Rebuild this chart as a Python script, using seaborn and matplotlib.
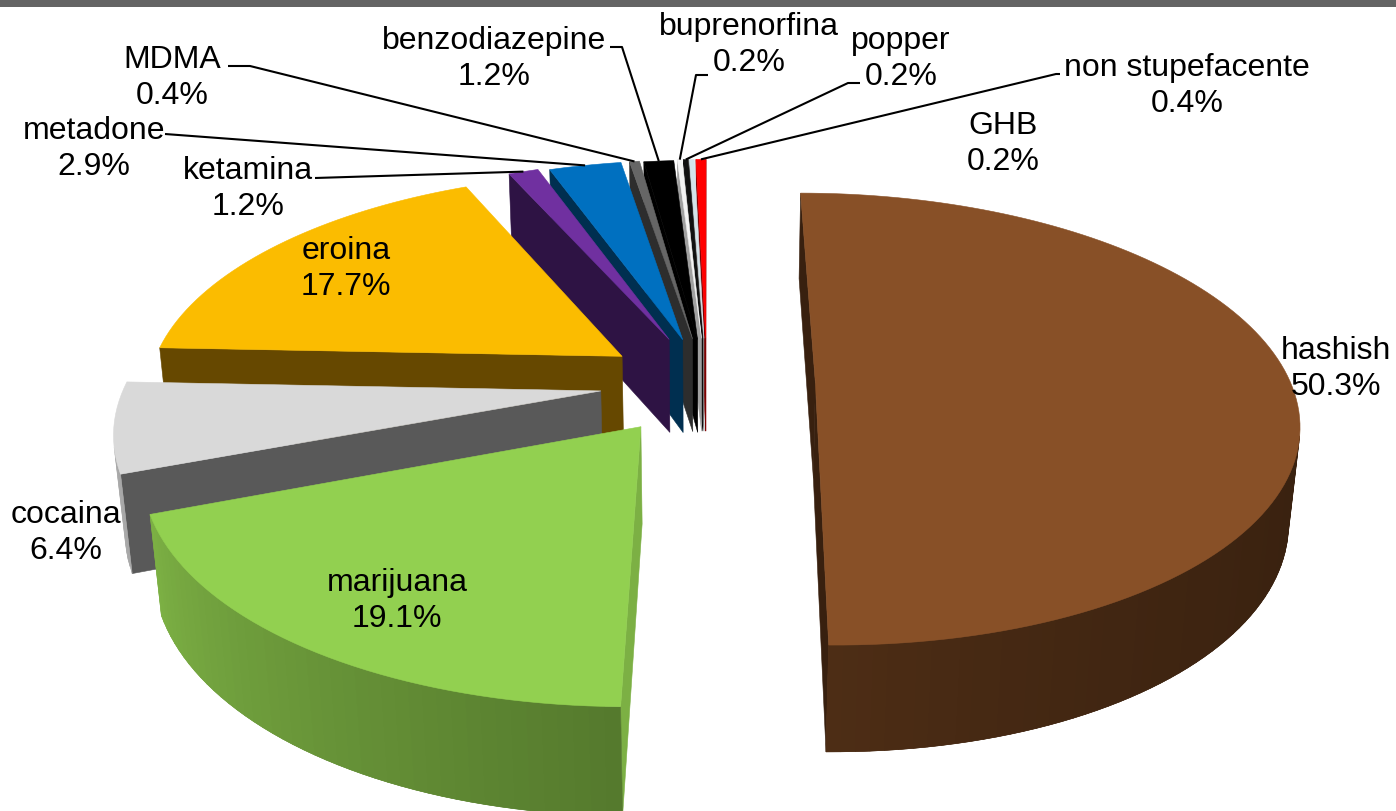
# -*- coding: utf-8 -*-
# Exploded 3D pie of substances, drawn with a small perspective projection
import numpy as np
import matplotlib
matplotlib.use('Agg')
import matplotlib.pyplot as plt
import matplotlib.colors as mcolors
import seaborn as sns

# Data, clockwise from 12 o'clock
labels = ['hashish', 'marijuana', 'cocaina', 'eroina', 'ketamina', 'metadone', 'MDMA',
          'benzodiazepine', 'buprenorfina', 'popper', 'GHB', 'non stupefacente']
values = [50.3, 19.1, 6.4, 17.7, 1.2, 2.9, 0.4, 1.2, 0.2, 0.2, 0.2, 0.4]

# Colours: top face, cut face, rim at slice start, rim at slice end
top_colors = ['#885027', '#92D050', '#D9D9D9', '#FBBC00', '#7030A0', '#0070C0', '#666666',
              '#000000', '#F4F4F4', '#111111', '#D3E4EA', '#FF0000']
cut_colors = ['#38200F', '#7CB044', '#595959', '#664800', '#2E1344', '#002F50', '#2D2D2D',
              '#000000', '#A0A0A0', '#000000', '#7F7F7F', '#7F0000']
rim_start = ['#37200F', '#557A2D', '#A8A8A8', '#664800', '#2E1344', '#002F50', '#2D2D2D',
             '#000000', '#A0A0A0', '#000000', '#7F7F7F', '#7F0000']
rim_end = ['#4D2D15', '#7CB044', '#B8B8B8', '#664800', '#2E1344', '#002F50', '#2D2D2D',
           '#000000', '#A0A0A0', '#000000', '#7F7F7F', '#7F0000']
rim_gamma = [4, 1, 1, 1, 1, 1, 1, 1, 1, 1, 1, 1]

# Label centres in figure pixels
label_pos = {'hashish': (1336, 369), 'marijuana': (397, 601), 'cocaina': (66, 533),
             'eroina': (346, 269), 'ketamina': (248, 189), 'metadone': (94, 149),
             'MDMA': (172, 78), 'benzodiazepine': (494, 59), 'buprenorfina': (749, 45),
             'popper': (901, 59), 'GHB': (1003, 144), 'non stupefacente': (1187, 86)}
leader_start = {'ketamina': [(315, 179)], 'metadone': [(165, 135)],
                'MDMA': [(228, 67), (250, 67)], 'benzodiazepine': [(610, 48), (622, 48)],
                'buprenorfina': [(708, 76), (696, 76)], 'popper': [(860, 84), (848, 84)],
                'non stupefacente': [(1060, 75), (1056, 75)]}

# Camera and pie settings
explode = [0.228, 0.235, 0.225, 0.22, 0.22, 0.21, 0.21, 0.205, 0.21, 0.21, 0.21, 0.21]
cx, cy = 707, 384
dist = 5.6
focal = 2662
elev = np.radians(27.6)
height = 0.23


def project(x, y, z):
    depth = dist + y * np.cos(elev) - z * np.sin(elev)
    yc = y * np.sin(elev) + z * np.cos(elev)
    return cx + focal * x / depth, cy - focal * yc / depth


def area(pts):
    xs = np.array([p[0] for p in pts])
    ys = np.array([p[1] for p in pts])
    return 0.5 * np.sum(xs * np.roll(ys, -1) - np.roll(xs, -1) * ys)


def draw_face(ax, pts, color):
    # only faces turned toward the camera
    if area(pts) < 0:
        ax.fill([p[0] for p in pts], [p[1] for p in pts], color=color, lw=0.4, zorder=order)


sns.set_theme(style='white')
plt.rcParams['font.family'] = ['Liberation Sans', 'DejaVu Sans']

fig, ax = plt.subplots(figsize=(13.96, 8.12), dpi=100)
fig.subplots_adjust(0, 0, 1, 1)
ax.set_xlim(0, 1396)
ax.set_ylim(812, 0)
ax.axis('off')

# grey band along the top
ax.axhspan(1, 8, color='#646464', lw=0, zorder=50)

fracs = np.array(values) / np.sum(values)
edges = np.concatenate([[0], np.cumsum(fracs)]) * 2 * np.pi
mids = (edges[:-1] + edges[1:]) / 2

# back slices first
draw_order = sorted(range(len(values)), key=lambda i: -np.cos(mids[i]))
rim_mid = {}
for rank, i in enumerate(draw_order):
    order = 2 + rank
    a1, a2 = edges[i], edges[i + 1]
    ox, oy = explode[i] * np.sin(mids[i]), explode[i] * np.cos(mids[i])
    angs = np.linspace(a1, a2, max(3, int(np.degrees(a2 - a1) / 1.5)))
    tops = [project(ox + np.sin(a), oy + np.cos(a), 0) for a in angs]
    bots = [project(ox + np.sin(a), oy + np.cos(a), -height) for a in angs]
    apex_t = project(ox, oy, 0)
    apex_b = project(ox, oy, -height)

    # cut faces
    draw_face(ax, [apex_t, tops[0], bots[0], apex_b], cut_colors[i])
    draw_face(ax, [tops[-1], apex_t, apex_b, bots[-1]], cut_colors[i])

    # rim, shaded along the arc; each piece overlaps the next one so no seams show
    c1, c2 = np.array(mcolors.to_rgb(rim_start[i])), np.array(mcolors.to_rgb(rim_end[i]))
    for k in range(len(angs) - 1):
        t = (k / max(1, len(angs) - 2)) ** rim_gamma[i]
        n = min(k + 2, len(angs) - 1)
        draw_face(ax, [tops[k], tops[n], bots[n], bots[k]], tuple(c1 + (c2 - c1) * t))

    # top face
    pts = [apex_t] + tops
    ax.fill([p[0] for p in pts], [p[1] for p in pts], color=top_colors[i], lw=0.4, zorder=order)
    rim_mid[labels[i]] = project(ox + np.sin(mids[i]), oy + np.cos(mids[i]), 0)

# leader lines end on the slice they name
for name, start in leader_start.items():
    pts = start + [rim_mid[name]]
    ax.plot([p[0] for p in pts], [p[1] for p in pts], color='black', lw=1.5, zorder=40,
            solid_capstyle='butt')

for name, val in zip(labels, values):
    x, y = label_pos[name]
    ax.text(x, y, f'{name}\n{val:.1f}%', ha='center', va='center', fontsize=23,
            color='black', linespacing=1.28, zorder=60)

sns.despine(ax=ax, left=True, bottom=True)
fig.savefig('out.png', dpi=100)
